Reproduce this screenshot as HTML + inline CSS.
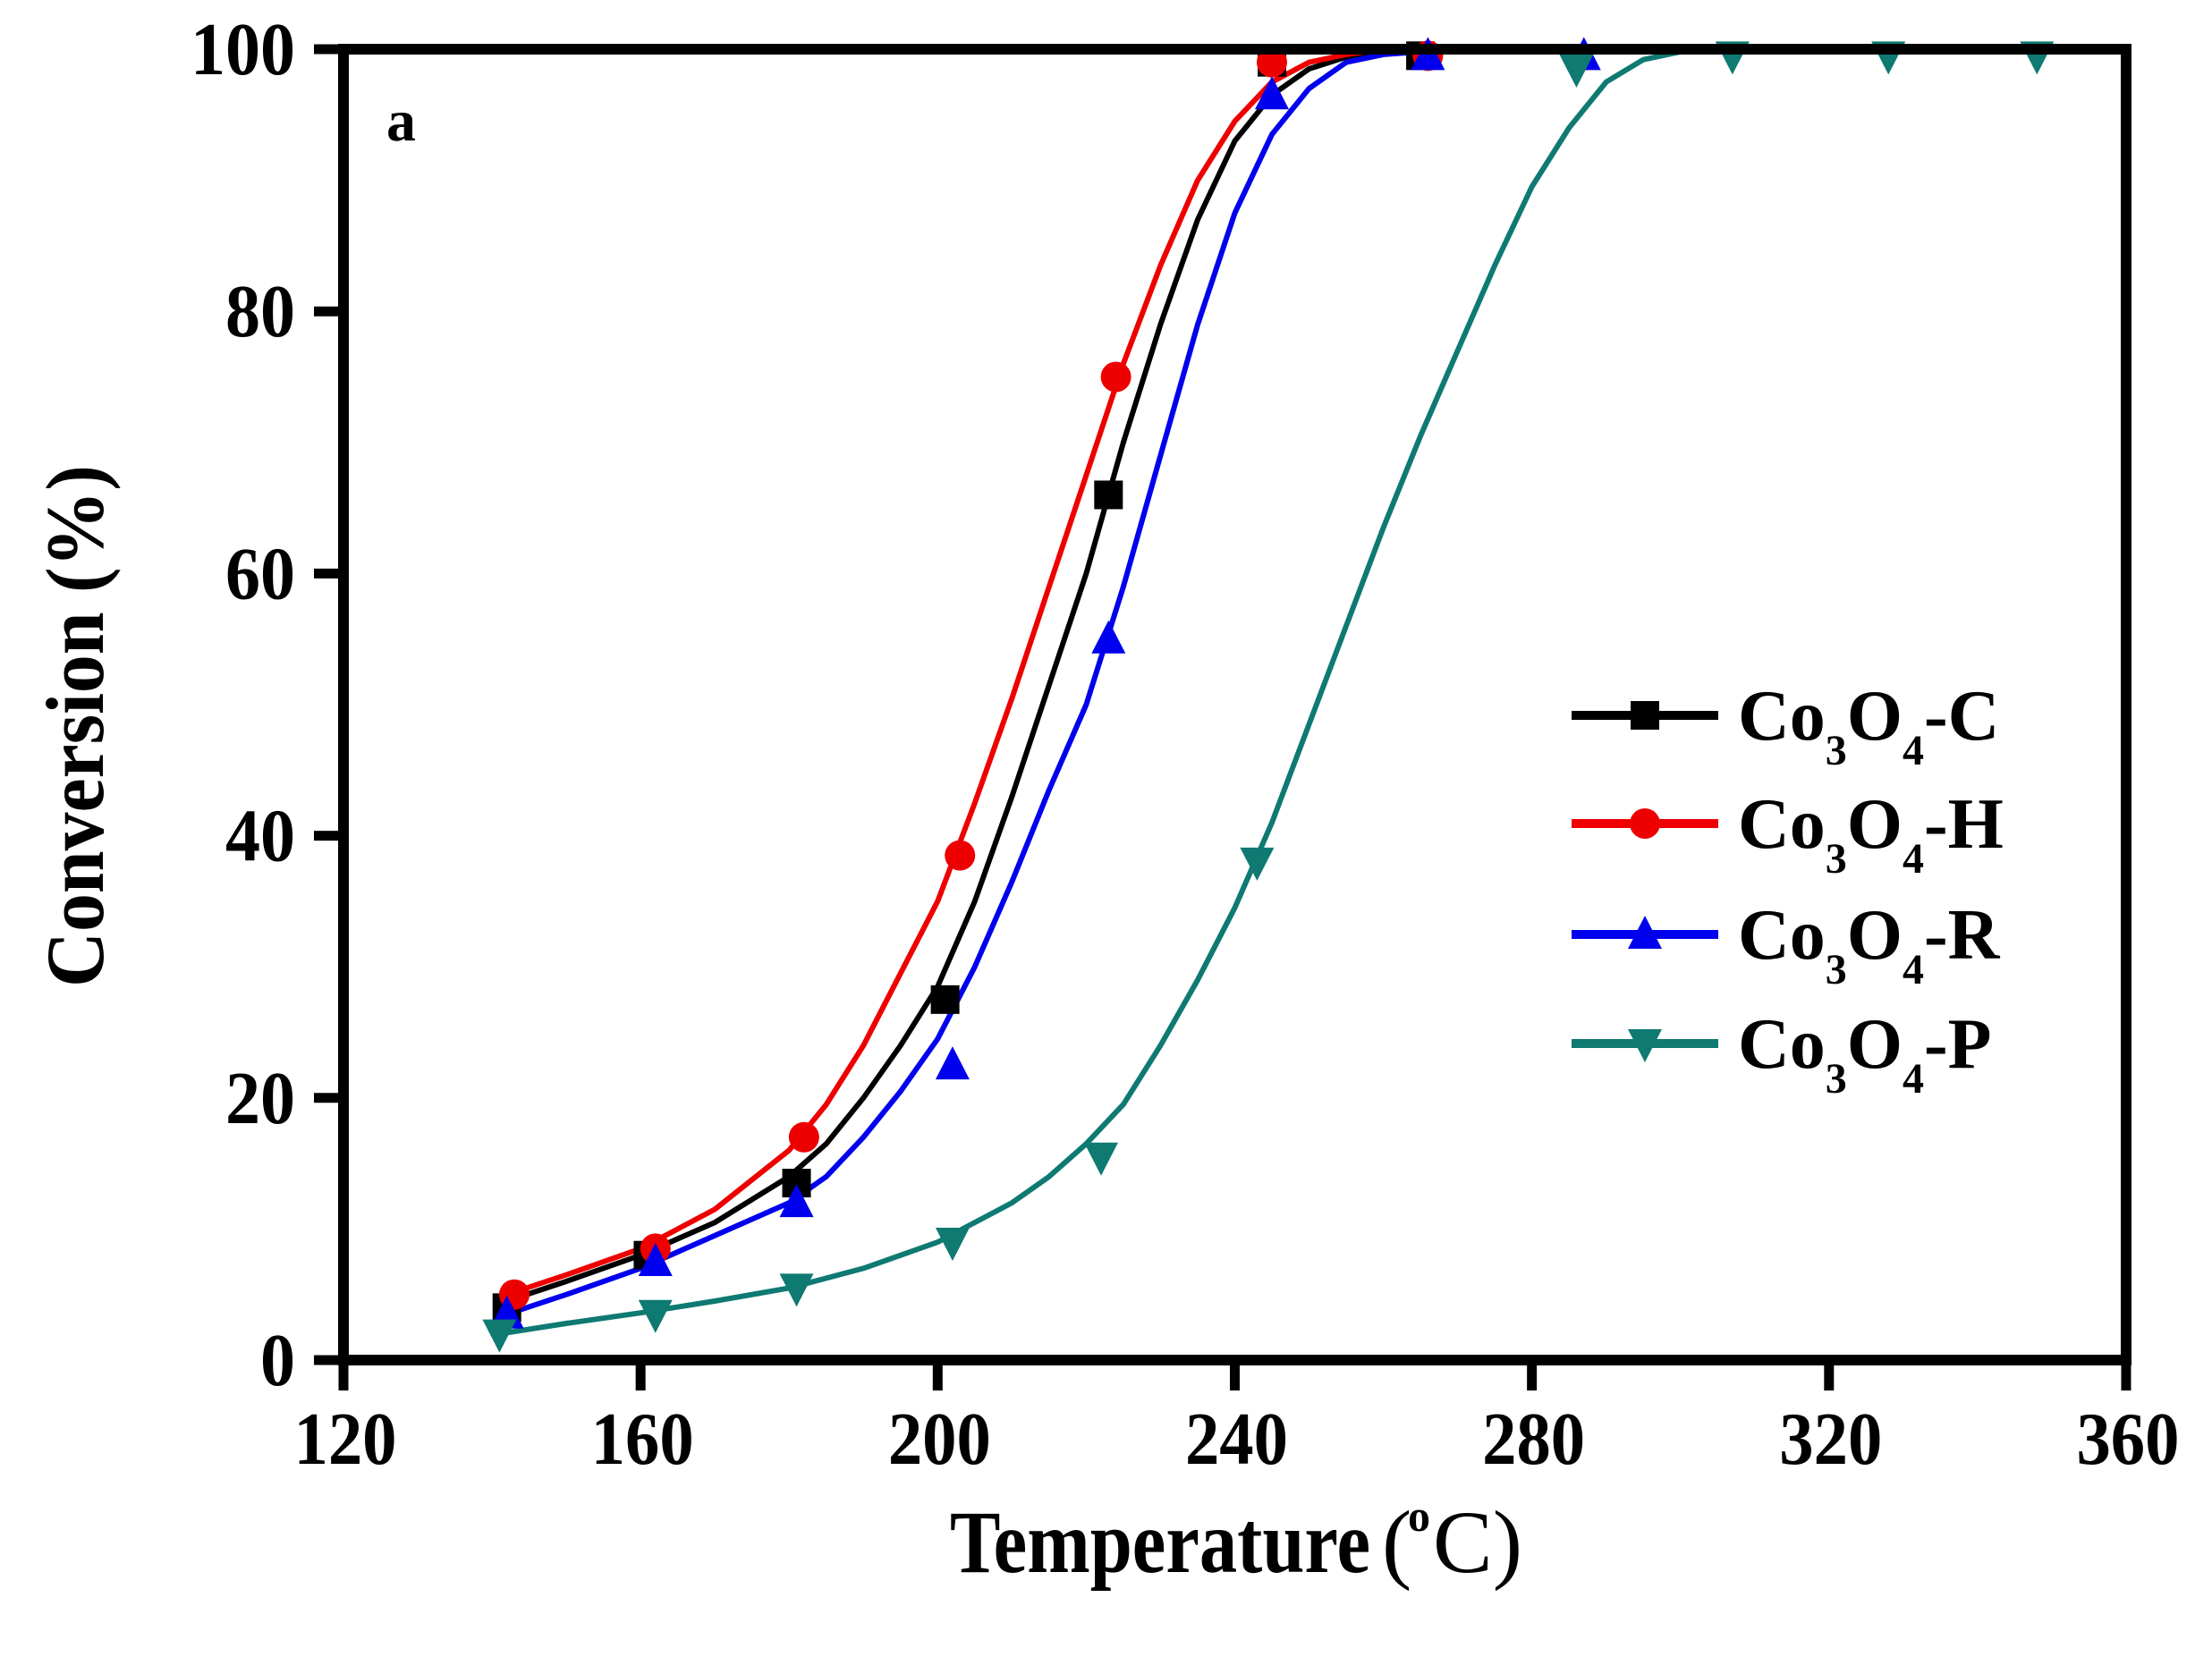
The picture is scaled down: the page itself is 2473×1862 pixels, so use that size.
<!DOCTYPE html>
<html><head><meta charset="utf-8">
<style>
html,body{margin:0;padding:0;background:#fff;}
svg{display:block;}
text{font-family:"Liberation Serif",serif;font-weight:bold;fill:#000;}
</style></head>
<body>
<svg id="s" width="2473" height="1862" viewBox="0 0 2473 1862" xmlns="http://www.w3.org/2000/svg">
<rect width="2473" height="1862" fill="#fff"/>
<g id="curves" fill="none" stroke-width="6" stroke-linejoin="round"></g>
<g id="markers"></g>
<rect x="384" y="55" width="1993" height="1466" fill="none" stroke="#000" stroke-width="12"/>
<g id="ticks" stroke="#000" stroke-width="11"></g>
<g id="labels" font-size="84"></g>
<text x="432" y="157" font-size="66">a</text>
<text x="1062" y="1758" font-size="100" textLength="470" lengthAdjust="spacingAndGlyphs">Temperature</text>
<text x="1545" y="1758" font-size="100" style="font-weight:normal">(</text>
<text x="1574" y="1712" font-size="50">o</text>
<text x="1602" y="1758" font-size="100" style="font-weight:normal">C)</text>
<text transform="translate(115,1104) rotate(-90)" font-size="92" textLength="584" lengthAdjust="spacingAndGlyphs">Conversion (%)</text>
<g id="legend"></g>
</svg>
<script>
const NS="http://www.w3.org/2000/svg";
const X=T=>384+(T-120)*8.304, Y=C=>1521-C*14.66;
function el(p,t,a,txt){const e=document.createElementNS(NS,t);for(const k in a)e.setAttribute(k,a[k]);if(txt!==undefined)e.textContent=txt;document.getElementById(p).appendChild(e);return e;}
const series=[
 {c:"#000000",m:"sq",
  curve:[[142,4.5],[150,6],[160,8],[170,10.5],[180,14],[185,16.5],[190,20],[195,24],[200,28.5],[205,35],[210,43],[215,51.5],[220,60],[225,70],[230,79],[235,87],[240,93],[245,96.5],[250,98.5],[255,99.4],[260,99.8],[270,100]],
  pts:[[142,4],[161,8],[181,13.5],[201,27.5],[223,66],[245,99],[265,99.5]]},
 {c:"#ee0000",m:"ci",
  curve:[[142,5],[150,6.5],[160,8.5],[170,11.5],[180,16],[185,19.5],[190,24],[195,29.5],[200,35],[205,42.5],[210,50.5],[215,59],[220,67.5],[225,76],[230,83.5],[235,90],[240,94.5],[245,97.5],[250,99],[255,99.6],[260,100],[270,100]],
  pts:[[143,5],[162,8.5],[182,17],[203,38.5],[224,75],[245,99],[266,99.5]]},
 {c:"#0000ee",m:"up",
  curve:[[142,3.5],[150,5],[160,7],[170,9.5],[180,12],[185,14],[190,17],[195,20.5],[200,24.5],[205,30],[210,36.5],[215,43.5],[220,50],[225,59],[230,69],[235,79],[240,87.5],[245,93.5],[250,97],[255,99],[260,99.6],[270,100],[290,100]],
  pts:[[142,3.5],[162,7.5],[181,12],[202,22.5],[223,55],[245,96.5],[266,99.5],[287,99.5]]},
 {c:"#0e7a72",m:"dn",
  curve:[[141,2],[150,2.8],[160,3.6],[170,4.5],[180,5.5],[190,7],[200,9],[205,10.5],[210,12],[215,14],[220,16.5],[225,19.5],[230,24],[235,29],[240,34.5],[245,41],[250,48.5],[255,56],[260,63.5],[265,70.5],[270,77],[275,83.5],[280,89.5],[285,94],[290,97.5],[295,99.2],[300,99.8],[305,100],[350,100]],
  pts:[[141,2],[162,3.5],[181,5.5],[202,9],[222,15.5],[243,38],[286,98.5],[307,99.5],[328,99.5],[348,99.5]]}
];
function marker(g,m,x,y,c){
  const r=16;
  if(m=="sq") el(g,"rect",{x:x-r,y:y-r,width:2*r,height:2*r,fill:c});
  else if(m=="ci") el(g,"circle",{cx:x,cy:y,r:r+1,fill:c});
  else if(m=="up") el(g,"polygon",{points:`${x-r-3},${y+r} ${x+r+3},${y+r} ${x},${y-r-5}`,fill:c});
  else el(g,"polygon",{points:`${x-r-3},${y-r} ${x+r+3},${y-r} ${x},${y+r+5}`,fill:c});
}
series.forEach(s=>{
  el("curves","polyline",{points:s.curve.map(p=>X(p[0]).toFixed(1)+","+Y(p[1]).toFixed(1)).join(" "),stroke:s.c});
  s.pts.forEach(p=>marker("markers",s.m,X(p[0]),Y(p[1]),s.c));
});
for(let T=120;T<=360;T+=40){const x=X(T);el("ticks","line",{x1:x,y1:1521,x2:x,y2:1555});
  el("labels","text",{x:x+2,y:1637,"text-anchor":"middle",textLength:115,lengthAdjust:"spacingAndGlyphs"},String(T));}
for(let C=0;C<=100;C+=20){const y=Y(C);el("ticks","line",{x1:384,y1:y,x2:351,y2:y});
  const s=String(C);el("labels","text",{x:330,y:y+28,"text-anchor":"end",textLength:s.length*39,lengthAdjust:"spacingAndGlyphs"},s);}
const names=["C","H","R","P"];const ly=[800,921,1045,1167];
series.forEach((s,i)=>{
  const y=ly[i];
  el("legend","line",{x1:1757,y1:y,x2:1921,y2:y,stroke:s.c,"stroke-width":10});
  marker("legend",s.m,1839,y,s.c);
  const t=el("legend","text",{x:1943,y:y+27,"font-size":80});
  const parts=[["Co",0],["3",1],["O",0],["4",1],["-"+names[i],0]];
  parts.forEach(p=>{const ts=document.createElementNS(NS,"tspan");ts.textContent=p[0];
    if(p[1]){ts.setAttribute("font-size","48");ts.setAttribute("dy","28");}
    else if(t.childNodes.length&&t.lastChild.getAttribute("dy")=="28"){ts.setAttribute("dy","-28");}
    t.appendChild(ts);});
});
</script>
</body></html>
